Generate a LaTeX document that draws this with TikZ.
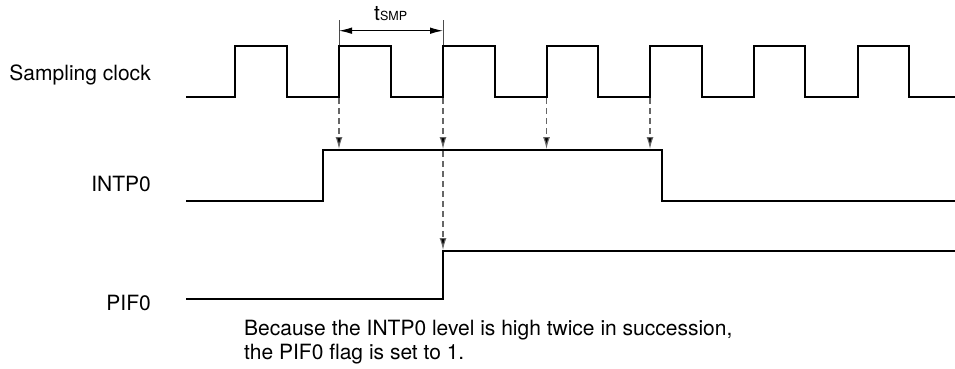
\documentclass[tikz,border=0pt]{standalone}
\usepackage{fontspec}
\setmainfont{TeX Gyre Heros}
\usetikzlibrary{arrows.meta}
\begin{document}
\begin{tikzpicture}[x=1pt,y=-1pt,
  wave/.style={line width=2pt,line join=miter,line cap=butt},
  sample/.style={line width=1.1pt,draw=black!60,dash pattern=on 6pt off 4pt,
    -{Latex[length=12pt,width=7pt,fill=black]}},
  tick/.style={line width=0.9pt,draw=black!70},
  dim/.style={line width=1pt,{Latex[length=13pt,width=6.5pt]}-{Latex[length=13pt,width=6.5pt]}},
  lbl/.style={anchor=base east,inner sep=0pt,font=\fontsize{21}{25}\selectfont},
  note/.style={anchor=base west,inner sep=0pt,font=\fontsize{21}{25}\selectfont}]
\useasboundingbox (0,0) rectangle (955,368);
% labels
\node[lbl] (lclk) at (151,80) {Sampling clock};
\node[lbl] (lint) at (151,191) {INTP0};
\node[lbl] (lpif) at (151,310) {PIF0};
% sampling clock
\draw[wave] (186,97) -- (235,97) -- (235,46) -- (287,46) -- (287,97)
  -- (339,97) -- (339,46) -- (391,46) -- (391,97)
  -- (443,97) -- (443,46) -- (495,46) -- (495,97)
  -- (546.5,97) -- (546.5,46) -- (598,46) -- (598,97)
  -- (650,97) -- (650,46) -- (702,46) -- (702,97)
  -- (754,97) -- (754,46) -- (805,46) -- (805,97)
  -- (857.5,97) -- (857.5,46) -- (909,46) -- (909,97) -- (955,97);
% INTP0
\draw[wave] (186,201) -- (323,201) -- (323,150) -- (662,150) -- (662,201) -- (955,201);
% PIF0
\draw[wave] (186,299) -- (443,299) -- (443,251) -- (955,251);
% sampling points
\coordinate (c1) at (339,98);
\coordinate (c2) at (443,98);
\coordinate (c3) at (546.5,98);
\coordinate (c4) at (650,98);
\coordinate (i1) at (339,149);
\coordinate (i2) at (443,149);
\coordinate (i3) at (546.5,149);
\coordinate (i4) at (650,149);
\coordinate (i2b) at (443,151);
\coordinate (p2) at (443,250);
\draw[sample] (c1) -- (i1);
\draw[sample] (c2) -- (i2);
\draw[sample] (c3) -- (i3);
\draw[sample] (c4) -- (i4);
\draw[sample] (i2b) -- (p2);
% tSMP dimension
\coordinate (ta) at (339,20);
\coordinate (tb) at (443,20);
\coordinate (ta2) at (339,45);
\coordinate (tb2) at (443,45);
\coordinate (da) at (339,30.7);
\coordinate (db) at (443,30.7);
\draw[tick] (ta) -- (ta2);
\draw[tick] (tb) -- (tb2);
\draw[dim] (da) -- (db);
\node[anchor=base west,inner sep=0pt] (tsmp) at (374,20.7)
  {\fontsize{21}{25}\selectfont t\fontsize{12.5}{14}\selectfont SMP};
% note
\node[note] (n1) at (244,335) {Because the INTP0 level is high twice in succession,};
\node[note] (n2) at (244,359) {the PIF0 flag is set to 1.};
\end{tikzpicture}
\end{document}
